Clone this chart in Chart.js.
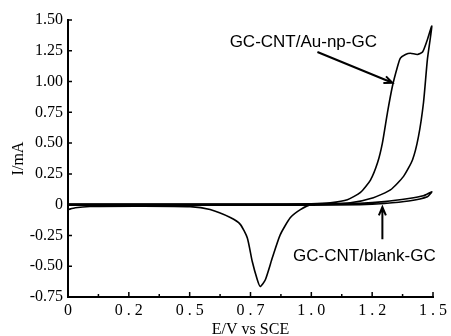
<!DOCTYPE html>
<html>
<head>
<meta charset="utf-8">
<script src="https://cdn.jsdelivr.net/npm/chart.js@4"></script>
<style>
  html, body { margin: 0; padding: 0; background: #fff; }
  #wrap { width: 451px; height: 336px; }
</style>
</head>
<body>
<div id="wrap"><canvas id="cvChart" width="451" height="336"></canvas></div>
<script>
// potential (V vs SCE) and current (mA), in scan order
const auE = [0, 0.2, 0.5, 0.8, 1.0, 1.078, 1.148, 1.202, 1.243, 1.272, 1.292, 1.313, 1.333, 1.354, 1.366, 1.387, 1.407, 1.436, 1.457, 1.475, 1.495,
             1.477, 1.461, 1.44, 1.416, 1.379, 1.325, 1.255, 1.16, 1.0, 0.955, 0.914, 0.872, 0.84, 0.811, 0.79, 0.778, 0.757, 0.737, 0.708, 0.667, 0.584, 0.502, 0.3, 0.09, 0.03, 0];
const auI = [0.005, 0.005, 0.005, 0.005, 0.008, 0.016, 0.04, 0.1, 0.2, 0.34, 0.5, 0.75, 0.96, 1.12, 1.19, 1.22, 1.23, 1.22, 1.24, 1.33, 1.45,
             1.18, 0.83, 0.55, 0.365, 0.23, 0.12, 0.057, 0.016, 0.0, -0.04, -0.105, -0.245, -0.43, -0.61, -0.665, -0.61, -0.46, -0.27, -0.16, -0.105, -0.04, -0.016, -0.012, -0.015, -0.025, -0.04];

const blankE = [0, 0.5, 1.0, 1.2, 1.3, 1.4, 1.46, 1.495, 1.477, 1.4, 1.3, 1.2, 1.0, 0.5, 0];
const blankI = [0.003, 0.003, 0.004, 0.012, 0.025, 0.05, 0.072, 0.105, 0.065, 0.03, 0.01, 0.0, -0.005, -0.005, -0.005];

const xTickLabels = ['0', '0 . 2', '0 . 5', '0 . 7', '1 . 0', '1 . 2', '1 . 5'];
const yTickLabels = ['-0.75', '-0.50', '-0.25', '0', '0.25', '0.50', '0.75', '1.00', '1.25', '1.50'];

const toPoints = (xs, ys) => xs.map((v, i) => ({ x: v, y: ys[i] }));

// text labels with arrows, positioned in data units
const notes = [
  { text: 'GC-CNT/Au-np-GC', at: [0.967, 1.32], from: [1.025, 1.24], to: [1.333, 0.99] },
  { text: 'GC-CNT/blank-GC', at: [1.218, -0.42], from: [1.292, -0.28], to: [1.292, -0.02] }
];

const axisExtras = {
  id: 'axisExtras',
  afterDraw(chart) {
    const { ctx, chartArea } = chart;
    const x = chart.scales.x, y = chart.scales.y;
    ctx.save();
    ctx.strokeStyle = '#000';
    ctx.lineWidth = 1.5;
    ctx.beginPath();
    // x ticks point inward, minor ones halfway
    x.ticks.forEach((t, i) => {
      const px = x.getPixelForValue(t.value);
      ctx.moveTo(px, chartArea.bottom);
      ctx.lineTo(px, chartArea.bottom - 5);
      if (i < x.ticks.length - 1) {
        const mx = x.getPixelForValue(t.value + 0.125);
        ctx.moveTo(mx, chartArea.bottom);
        ctx.lineTo(mx, chartArea.bottom - 3);
      }
    });
    y.ticks.forEach(t => {
      const py = y.getPixelForValue(t.value);
      ctx.moveTo(chartArea.left, py);
      ctx.lineTo(chartArea.left + 4, py);
    });
    ctx.stroke();

    // annotations
    ctx.fillStyle = '#000';
    ctx.font = '17px "Liberation Sans", Arial, sans-serif';
    ctx.textAlign = 'center';
    ctx.textBaseline = 'middle';
    ctx.lineWidth = 2;
    notes.forEach(n => {
      ctx.fillText(n.text, x.getPixelForValue(n.at[0]), y.getPixelForValue(n.at[1]));
      const x1 = x.getPixelForValue(n.from[0]), y1 = y.getPixelForValue(n.from[1]);
      const x2 = x.getPixelForValue(n.to[0]), y2 = y.getPixelForValue(n.to[1]);
      const ang = Math.atan2(y2 - y1, x2 - x1);
      ctx.beginPath();
      ctx.moveTo(x1, y1);
      ctx.lineTo(x2, y2);
      ctx.moveTo(x2 - 9 * Math.cos(ang - 0.4), y2 - 9 * Math.sin(ang - 0.4));
      ctx.lineTo(x2, y2);
      ctx.lineTo(x2 - 9 * Math.cos(ang + 0.4), y2 - 9 * Math.sin(ang + 0.4));
      ctx.stroke();
    });
    ctx.restore();
  }
};

const serif = { family: '"Liberation Serif", "Times New Roman", serif', size: 16 };

new Chart(document.getElementById('cvChart').getContext('2d'), {
  type: 'scatter',
  data: {
    datasets: [
      { label: 'GC-CNT/Au-np-GC', data: toPoints(auE, auI), showLine: true, borderColor: '#000', borderWidth: 1.6, pointRadius: 0, tension: 0.2 },
      { label: 'GC-CNT/blank-GC', data: toPoints(blankE, blankI), showLine: true, borderColor: '#000', borderWidth: 1.6, pointRadius: 0, tension: 0.2 }
    ]
  },
  options: {
    responsive: false,
    animation: false,
    layout: { padding: { left: 0, right: 18, top: 20, bottom: 0 } },
    plugins: { legend: { display: false }, tooltip: { enabled: false } },
    scales: {
      x: {
        type: 'linear', min: 0, max: 1.5,
        grid: { display: false, drawTicks: false },
        border: { display: true, color: '#000', width: 2 },
        ticks: { stepSize: 0.25, color: '#000', font: serif, padding: 4, maxRotation: 0,
                 callback: (v, i) => xTickLabels[i] },
        title: { display: true, text: 'E/V vs SCE', color: '#000', font: serif, padding: { top: 0, bottom: -3 } },
        afterFit: s => { s.height = 39; }
      },
      y: {
        type: 'linear', min: -0.75, max: 1.5,
        grid: { display: false, drawTicks: false },
        border: { display: true, color: '#000', width: 2 },
        ticks: { stepSize: 0.25, color: '#000', font: serif, padding: 5,
                 callback: (v, i) => yTickLabels[i] },
        title: { display: true, text: 'I/mA', color: '#000', font: serif, padding: { top: 9, bottom: 0 } },
        afterFit: s => { s.width = 68; }
      }
    }
  },
  plugins: [axisExtras]
});
</script>
</body>
</html>
